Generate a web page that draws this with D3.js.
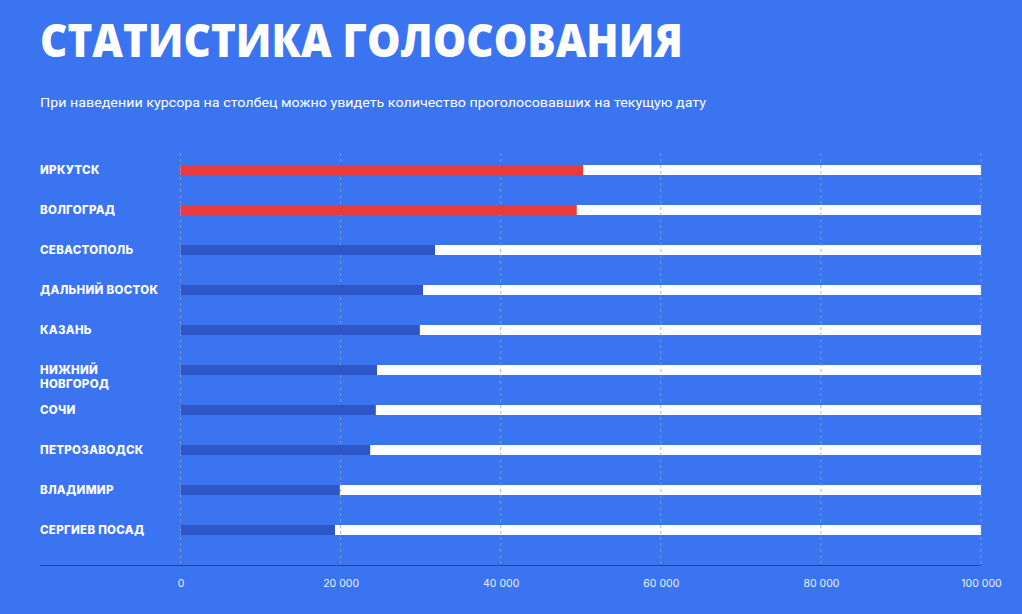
<!DOCTYPE html>
<html><head><meta charset="utf-8">
<script src="https://cdn.jsdelivr.net/npm/d3@7"></script>
<style>
html,body{margin:0;padding:0;background:#3b74f1;}
svg{display:block;}
</style></head>
<body>
<svg id="chart" width="1022" height="614"></svg>
<script>
const categories = ["ИРКУТСК","ВОЛГОГРАД","СЕВАСТОПОЛЬ","ДАЛЬНИЙ ВОСТОК","КАЗАНЬ","НИЖНИЙ НОВГОРОД","СОЧИ","ПЕТРОЗАВОДСК","ВЛАДИМИР","СЕРГИЕВ ПОСАД"];
const labelLines = [["ИРКУТСК"],["ВОЛГОГРАД"],["СЕВАСТОПОЛЬ"],["ДАЛЬНИЙ ВОСТОК"],["КАЗАНЬ"],["НИЖНИЙ","НОВГОРОД"],["СОЧИ"],["ПЕТРОЗАВОДСК"],["ВЛАДИМИР"],["СЕРГИЕВ ПОСАД"]];
const votes = [50300, 49500, 31800, 30300, 29900, 24550, 24400, 23700, 19900, 19300];
const leaders = [true, true, false, false, false, false, false, false, false, false];
const maxValue = 100000;
const tickValues = [0, 20000, 40000, 60000, 80000, 100000];
const tickLabels = ["0", "20 000", "40 000", "60 000", "80 000", "100 000"];

const svg = d3.select("#chart");
const font = "'Open Sans', sans-serif";
const labelFont = "Inter, sans-serif";

svg.append("text").attr("x", 40).attr("y", 57)
  .attr("fill", "#fff").attr("font-family", font).attr("font-weight", 800)
  .attr("font-size", 46).attr("textLength", 643).attr("lengthAdjust", "spacingAndGlyphs")
  .text("СТАТИСТИКА ГОЛОСОВАНИЯ");
svg.append("text").attr("x", 40).attr("y", 107)
  .attr("fill", "#fff").attr("font-family", "Roboto, sans-serif")
  .attr("font-size", 13.5).attr("textLength", 666).attr("lengthAdjust", "spacingAndGlyphs")
  .text("При наведении курсора на столбец можно увидеть количество проголосовавших на текущую дату");

const x = d3.scaleLinear().domain([0, maxValue]).range([180.5, 981]);
const y = d3.scaleBand().domain(categories).range([150, 550]).paddingInner(0).paddingOuter(0);
const barH = 10;

// tracks
svg.append("g").selectAll("rect").data(categories).join("rect")
  .attr("x", x(0)).attr("width", x(maxValue) - x(0))
  .attr("y", d => y(d) + y.bandwidth()/2 - barH/2).attr("height", barH)
  .attr("fill", "#ffffff");

// grid
svg.append("g").selectAll("line").data(tickValues).join("line")
  .attr("x1", d => x(d)).attr("x2", d => x(d))
  .attr("y1", 153).attr("y2", 565)
  .attr("stroke", "#8f9fc9").attr("stroke-width", 1).attr("stroke-dasharray", "3,3")
  .attr("opacity", 0.8);

// bars
svg.append("g").selectAll("rect").data(categories).join("rect")
  .attr("x", x(0)).attr("width", (d,i) => x(votes[i]) - x(0))
  .attr("y", d => y(d) + y.bandwidth()/2 - barH/2).attr("height", barH)
  .attr("fill", (d,i) => leaders[i] ? "#ea3a3b" : "#2f56c6");

// labels
const lg = svg.append("g");
categories.forEach((c, i) => {
  const lines = labelLines[i];
  const cy = y(c) + y.bandwidth()/2;
  lines.forEach((ln, j) => {
    lg.append("text").attr("x", 40).attr("y", cy + 4.2 + j*14)
      .attr("fill", "#fff").attr("font-family", labelFont).attr("font-weight", 800)
      .attr("font-size", 11.5).attr("letter-spacing", 0.3).text(ln);
  });
});

// axis
svg.append("line").attr("x1", 40).attr("x2", 981).attr("y1", 565.5).attr("y2", 565.5)
  .attr("stroke", "#1f45b0").attr("stroke-width", 1.2);
const axis = d3.axisBottom(x).tickValues(tickValues).tickSize(0).tickPadding(0)
  .tickFormat((d,i) => tickLabels[i]);
const ag = svg.append("g").attr("transform", "translate(0,584)").call(axis);
ag.select(".domain").remove();
ag.selectAll("text").attr("fill", "#eef2ff").attr("font-family", labelFont)
  .attr("font-size", 10.5).attr("dy", "0.32em");
</script>
</body></html>
